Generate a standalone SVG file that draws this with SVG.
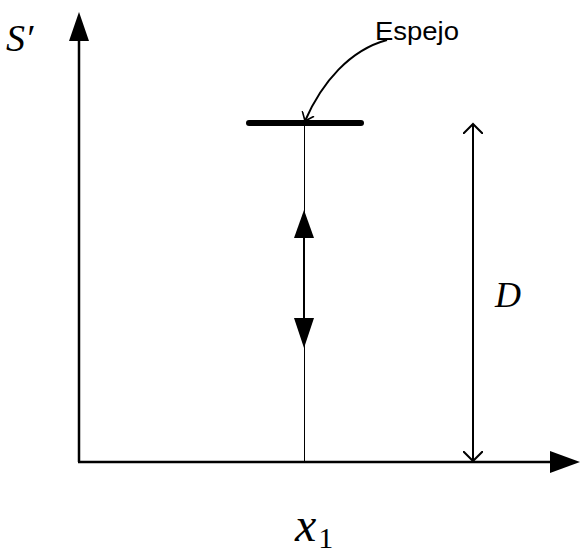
<svg xmlns="http://www.w3.org/2000/svg" width="580" height="552" viewBox="0 0 580 552">
<style>
.ax{stroke:#000;stroke-width:2.5;fill:none}
.thin{stroke:#000;stroke-width:1;fill:none}
.med{stroke:#000;stroke-width:2;fill:none}
.math{font-family:"Liberation Serif",serif;font-style:italic;fill:#000}
.lbl{font-family:"Liberation Sans",Arial,sans-serif;fill:#000}
</style>
<defs>
<marker id="open" viewBox="0 0 20 20" refX="10" refY="10" markerWidth="20" markerHeight="20" markerUnits="userSpaceOnUse" orient="auto-start-reverse">
<path d="M0,0 L10,10 L0,20" fill="none" stroke="#000" stroke-width="2"/>
</marker>
<marker id="opensm" viewBox="0 0 20 20" refX="10" refY="10" markerWidth="16" markerHeight="16" markerUnits="userSpaceOnUse" orient="auto">
<path d="M0,2 L10,10 L0,18" fill="none" stroke="#000" stroke-width="2"/>
</marker>
</defs>
<rect width="580" height="552" fill="#fff"/>
<g id="axes">
<line class="ax" x1="79" y1="462" x2="79" y2="38"/>
<polygon points="79,12 69,41 89,41" fill="#000"/>
<line class="ax" x1="78" y1="462" x2="558" y2="462"/>
<polygon points="580,462 550,451 550,473" fill="#000"/>
</g>
<g id="mirror">
<line x1="249" y1="123" x2="361" y2="123" stroke="#000" stroke-width="6" stroke-linecap="round"/>
</g>
<g id="connectors">
<line class="thin" x1="304.5" y1="123" x2="304.5" y2="462"/>
<line class="med" x1="304" y1="236" x2="304" y2="320"/>
<polygon points="304,210 294,238 314,238" fill="#000"/>
<polygon points="304,348 294,318 314,318" fill="#000"/>
<line class="med" x1="473" y1="124" x2="473" y2="461" marker-start="url(#open)" marker-end="url(#open)"/>
<path class="med" d="M387,40 C350,50 322,82 305,121" marker-end="url(#opensm)"/>
</g>
<g id="labels">
<text class="lbl" x="375" y="40" font-size="26" textLength="84" lengthAdjust="spacingAndGlyphs">Espejo</text>
<text class="math" x="6" y="51" font-size="38">S′</text>
<text class="math" x="495" y="307" font-size="36">D</text>
<text class="math" x="295" y="541" font-size="48">x<tspan font-style="normal" font-size="30" dx="2" dy="7">1</tspan></text>
</g>
</svg>
